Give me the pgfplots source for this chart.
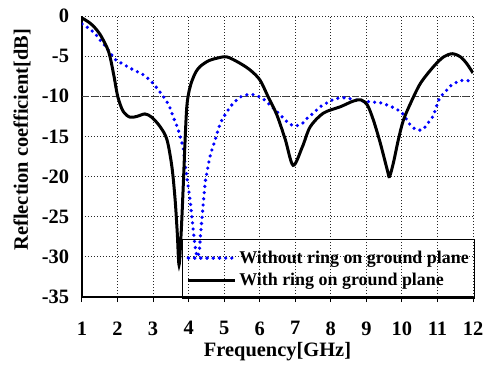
\documentclass[border=0pt]{standalone}
\usepackage{fontspec}
\setmainfont{Liberation Serif}
\usepackage{pgfplots}
\pgfplotsset{compat=1.18}
\begin{document}
\begin{tikzpicture}
\begin{axis}[
  name=ax, scale only axis, width=391bp, height=281bp,
  xmin=1, xmax=12, ymin=-35, ymax=0,
  xtick={1,...,12}, ytick={-35,-30,...,0},
  axis lines=left, axis line style={-, line width=1.6bp, black},
  grid=major, major grid style={black!85, line width=0.9bp, dash pattern=on 1bp off 2bp},
  xtick align=outside, major tick length=5bp,
  x tick style={black, line width=1bp}, y tick style={draw=none},
  ticklabel style={font=\fontsize{20.5}{24}\selectfont\bfseries, /pgf/number format/assume math mode=true},
  xticklabel style={yshift=-16bp},
  yticklabel style={xshift=-7bp},
  every axis x label/.style={at={([yshift=-55bp]rel axis cs:0.5,0)}, anchor=center},
  every axis y label/.style={at={([xshift=-60bp,yshift=17bp]rel axis cs:0,0.5)}, rotate=90, anchor=center},
  label style={font=\fontsize{20.5}{25}\selectfont\bfseries},
  xlabel={Frequency[GHz]}, ylabel={Reflection coefficient[dB]},
  legend style={at={(0.2564,0.2057)}, anchor=north west, draw=black, line width=0.8bp, fill=none,
    font=\fontsize{18}{21}\selectfont\bfseries, inner xsep=4bp, inner ysep=9bp,
    nodes={inner sep=2bp, text height=13bp, text depth=2bp}, row sep=3bp},
  legend cell align=left,
  legend image code/.code={\draw[#1] (0bp,0bp) -- (35bp,0bp); \path (0bp,0bp) -- (47bp,0bp);},
]
\coordinate (bl) at ([xshift=-82bp, yshift=-71bp]rel axis cs:0,0);
\coordinate (tr) at ([xshift=12bp, yshift=16bp]rel axis cs:1,1);
\addplot[forget plot, black!75, line width=1.5bp, dash pattern=on 7bp off 3bp] coordinates {(1,-10) (12,-10)};
\addplot[blue, line width=3.6bp, line cap=round, dash pattern=on 0bp off 6.2bp, smooth] coordinates {
(1,-1.0) (1.18,-1.5) (1.37,-2.2) (1.51,-3.0) (1.7,-4.0) (1.93,-5.4) (2.12,-5.9) (2.44,-6.7) (2.72,-7.3) (2.96,-8.2) (3.11,-9.0) (3.25,-9.8) (3.39,-10.7) (3.48,-11.5) (3.56,-12.5) (3.68,-13.8) (3.76,-15.0) (3.85,-16.5) (3.9,-18.4) (3.96,-20.4) (4.04,-22.9) (4.1,-25.4) (4.15,-27.5) (4.2,-29.2) (4.25,-30) (4.3,-29.2) (4.33,-27.5) (4.38,-25) (4.42,-22.9) (4.47,-20.6) (4.52,-19.4) (4.6,-17.5) (4.75,-15.4) (4.89,-13.4) (5.08,-11.9) (5.25,-10.9) (5.45,-10.1) (5.65,-9.8) (5.82,-9.8) (6.01,-10.1) (6.15,-10.5) (6.34,-11.3) (6.48,-11.9) (6.66,-12.7) (6.83,-13.4) (7.0,-13.7) (7.2,-13.4) (7.34,-12.7) (7.51,-12.1) (7.7,-11.3) (7.9,-10.8) (8.07,-10.4) (8.27,-10.2) (8.46,-10.2) (8.63,-10.4) (9.11,-10.7) (9.39,-10.8) (9.59,-11.1) (9.76,-11.4) (10.01,-12.1) (10.24,-13.6) (10.43,-14.2) (10.6,-14.1) (10.72,-13.4) (10.86,-12.6) (10.94,-11.7) (11.0,-10.9) (11.08,-10.1) (11.23,-9.4) (11.37,-8.7) (11.56,-8.2) (11.73,-8.0) (11.93,-8.1) (12,-8.2)};
\addlegendentry{Without ring on ground plane}
\addplot[black, line width=3bp, smooth, tension=0.5] coordinates {
(1,-0.25) (1.2,-0.8) (1.35,-1.4) (1.51,-2.3) (1.7,-3.9) (1.79,-5.1) (1.9,-7.5) (2.01,-10.1) (2.16,-11.9) (2.35,-12.6) (2.55,-12.5) (2.77,-12.2) (2.96,-12.6) (3.2,-13.8) (3.39,-15.4) (3.53,-18.8) (3.62,-22.9) (3.68,-27) (3.73,-31) (3.79,-27) (3.85,-21) (3.9,-15.5) (3.95,-11.2) (4.02,-9.2) (4.1,-8.0) (4.2,-7.0) (4.32,-6.3) (4.55,-5.6) (4.8,-5.25) (5.08,-5.1) (5.45,-5.9) (5.75,-6.8) (6.01,-8.0) (6.24,-10.1) (6.48,-12.3) (6.72,-15.4) (6.94,-18.6) (7.2,-16.3) (7.42,-13.8) (7.79,-12.1) (8.27,-11.3) (8.63,-10.6) (8.85,-10.45) (9.03,-11.1) (9.2,-13) (9.39,-15.8) (9.59,-19.2) (9.65,-20) (9.76,-18.3) (9.9,-15.4) (10.04,-13) (10.24,-10.9) (10.52,-8.4) (10.89,-6.3) (11.17,-5.1) (11.42,-4.7) (11.65,-5.1) (11.82,-5.9) (12,-7.1)};
\addlegendentry{With ring on ground plane}
\end{axis}
\pgfresetboundingbox
\path[use as bounding box] (bl) rectangle (tr);
\end{tikzpicture}
\end{document}
